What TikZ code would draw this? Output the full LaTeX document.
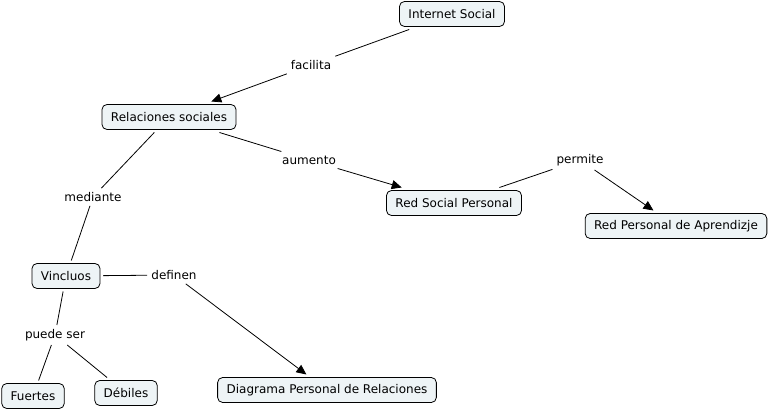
\documentclass[tikz,border=0pt]{standalone}
\usepackage{fontspec}
\setmainfont{DejaVu Sans}
\usetikzlibrary{arrows.meta}
\definecolor{boxfill}{RGB}{238,244,246}
\tikzset{
  concept/.style={draw=black, line width=0.8pt, fill=boxfill, rounded corners=5pt,
    minimum height=25pt, inner xsep=9pt, inner ysep=2pt, outer sep=3pt,
    font=\fontsize{12}{14}\selectfont},
  lbl/.style={inner sep=4pt, font=\fontsize{12}{14}\selectfont},
  link/.style={line width=0.8pt, black},
  arr/.style={link, -{Triangle[length=10pt,width=9pt]}}
}
\begin{document}
\begin{tikzpicture}[x=1pt,y=-1pt]
\useasboundingbox (0,0) rectangle (769,411);
\node[concept] (is) at (452,14) {Internet Social};
\node[concept] (rs) at (169,117) {Relaciones sociales};
\node[concept] (rsp) at (454,203) {Red Social Personal};
\node[concept] (rpa) at (676,226) {Red Personal de Aprendizje};
\node[concept] (vi) at (66,276) {Vincluos};
\node[concept] (fu) at (33,396) {Fuertes};
\node[concept] (de) at (126,393) {Débiles};
\node[concept] (dpr) at (327,390) {Diagrama Personal de Relaciones};

\node[lbl] (fa) at (311,65) {facilita};
\node[lbl] (au) at (309,160) {aumento};
\node[lbl] (pe) at (580,160) {permite};
\node[lbl] (me) at (93,197) {mediante};
\node[lbl] (dn) at (174,275) {definen};
\node[lbl] (ps) at (55,335) {puede ser};

\draw[link] (is) -- (fa);
\draw[arr] (fa) -- (rs);
\draw[link] (rs) -- (au);
\draw[arr] (au) -- (rsp);
\draw[link] (rsp) -- (pe);
\draw[arr] (pe) -- (rpa);
\draw[link] (rs) -- (me);
\draw[link] (me) -- (vi);
\draw[link] (vi) -- (dn);
\draw[arr] (dn) -- (dpr);
\draw[link] (vi) -- (ps);
\draw[link] (ps) -- (fu);
\draw[link] (ps) -- (de);
\end{tikzpicture}
\end{document}
